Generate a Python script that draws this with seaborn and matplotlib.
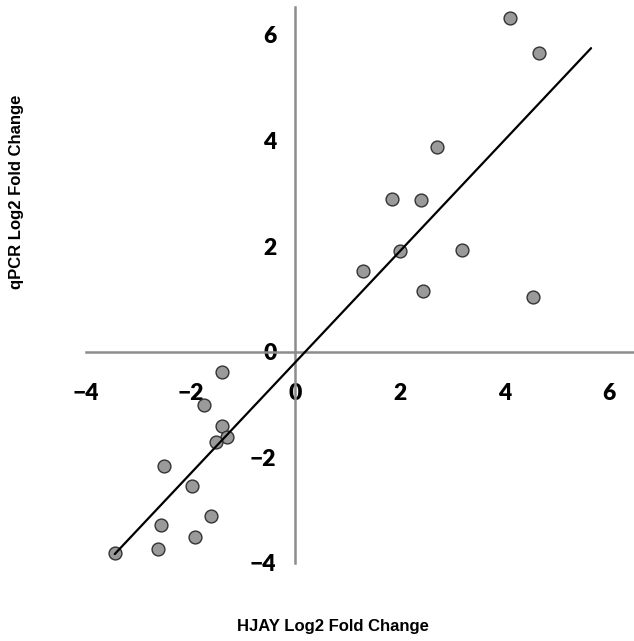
import matplotlib
matplotlib.use("Agg")
import matplotlib.pyplot as plt
import seaborn as sns
import numpy as np
import pandas as pd

# values
hjay = [4.10, 4.66, 2.72, 1.85, 2.40, 2.00, 3.20, 1.29, 2.44, 4.54,
        -1.39, -1.75, -1.39, -1.31, -1.52, -2.50, -1.98, -1.60, -2.57, -1.92, -2.63, -3.45]
qpcr = [6.33, 5.66, 3.88, 2.90, 2.88, 1.91, 1.93, 1.53, 1.16, 1.04,
        -0.38, -1.00, -1.40, -1.61, -1.70, -2.16, -2.54, -3.11, -3.28, -3.50, -3.73, -3.81]
x_ticks = [-4, -2, 0, 2, 4, 6]
y_ticks = [-4, -2, 0, 2, 4, 6]

sns.set_style("white")
axis_grey = "#8c8c8c"

df = pd.DataFrame({"hjay": hjay, "qpcr": qpcr})

fig = plt.figure(figsize=(6.34, 6.41), dpi=100)
ax = fig.add_axes([0.1356, 0.1217, 0.866, 0.8674])

sns.scatterplot(data=df, x="hjay", y="qpcr", s=85, color="#9a9a9a",
                edgecolor="#333333", linewidth=1, ax=ax, zorder=3, clip_on=False)

# linear trendline, extended one unit forward like the spreadsheet version
slope, intercept = np.polyfit(df["hjay"], df["qpcr"], 1)
line_x = np.array([df["hjay"].min(), df["hjay"].max() + 1])
ax.plot(line_x, slope * line_x + intercept, color="black", lw=1.6, zorder=4)

ax.set_xlim(-4, 6.5)
ax.set_ylim(-4, 6.53)

# axes crossing at the origin
for side in ["top", "right"]:
    ax.spines[side].set_visible(False)
for side in ["left", "bottom"]:
    ax.spines[side].set_position(("data", 0))
    ax.spines[side].set_color(axis_grey)
    ax.spines[side].set_linewidth(1.8)

ax.set_xticks(x_ticks)
ax.set_yticks(y_ticks)
ax.tick_params(direction="out", length=6.5, width=1.8, color=axis_grey)
ax.tick_params(axis="x", pad=16)
ax.tick_params(axis="y", pad=7)
for lab in ax.get_xticklabels() + ax.get_yticklabels():
    lab.set_fontfamily("Lato")
    lab.set_fontweight("heavy")
    lab.set_fontsize(16.5)
    lab.set_color("black")

ax.set_xlabel("HJAY Log2 Fold Change", fontsize=12, fontweight="bold",
              fontfamily="Liberation Sans", color="black")
ax.set_ylabel("qPCR Log2 Fold Change", fontsize=12, fontweight="bold",
              fontfamily="Liberation Sans", color="black")
ax.xaxis.label.set_va("center")
ax.yaxis.label.set_va("center")
ax.xaxis.set_label_coords(0.45, -0.115)
ax.yaxis.set_label_coords(-0.126, 0.667)

plt.savefig("out.png", dpi=100)
plt.close()
